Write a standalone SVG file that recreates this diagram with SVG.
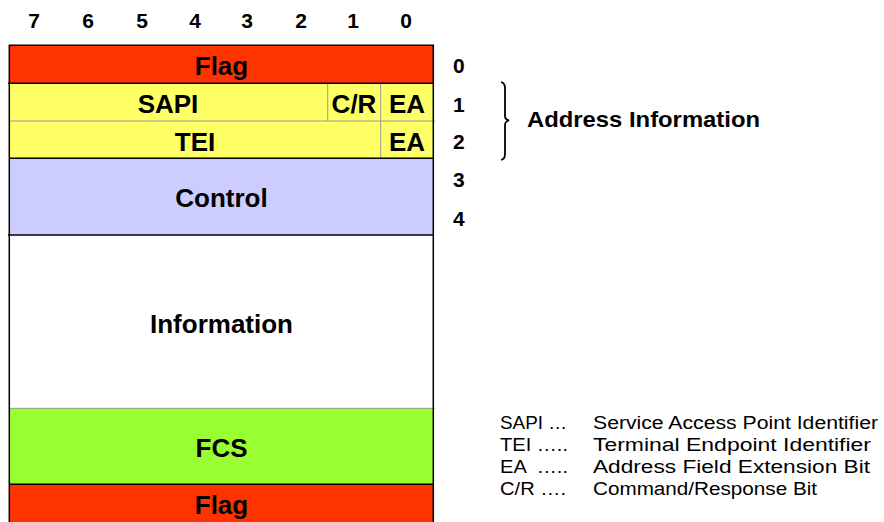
<svg xmlns="http://www.w3.org/2000/svg" width="884" height="522" viewBox="0 0 884 522">
  <style>
    .lbl { font-family: "Liberation Sans", Arial, sans-serif; font-weight: bold; font-size: 26px; fill: #000; text-anchor: middle; }
    .bit { font-family: "Liberation Sans", Arial, sans-serif; font-weight: bold; font-size: 21px; fill: #000; text-anchor: middle; }
    .oct { font-family: "Liberation Sans", Arial, sans-serif; font-weight: bold; font-size: 21px; fill: #000; }
    .head { font-family: "Liberation Sans", Arial, sans-serif; font-weight: bold; font-size: 22px; fill: #000; }
    .leg { font-family: "Liberation Sans", Arial, sans-serif; font-size: 18px; fill: #000; white-space: pre; }
    .edge { stroke: #000; stroke-width: 1.5; fill: none; }
    .thin { stroke: #999; stroke-width: 1; fill: none; }
    .flag { fill: #FF3300; }
    .addr { fill: #FFFF66; }
    .ctrl { fill: #CCCCFF; }
    .info { fill: #FFFFFF; }
    .fcs { fill: #99FF33; }
  </style>

  <!-- bit positions across the top -->
  <g id="bit-numbers">
    <text class="bit" x="34" y="28">7</text>
    <text class="bit" x="88" y="28">6</text>
    <text class="bit" x="142" y="28">5</text>
    <text class="bit" x="195" y="28">4</text>
    <text class="bit" x="247" y="28">3</text>
    <text class="bit" x="301" y="28">2</text>
    <text class="bit" x="353" y="28">1</text>
    <text class="bit" x="406" y="28">0</text>
  </g>

  <!-- frame fields -->
  <g id="flag-open">
    <rect class="flag" x="9" y="45" width="425" height="38"/>
    <text class="lbl" x="221.5" y="75">Flag</text>
  </g>
  <g id="sapi-octet">
    <rect class="addr" x="9" y="83" width="425" height="38"/>
    <text class="lbl" x="168" y="112.5">SAPI</text>
    <text class="lbl" x="354" y="112.5">C/R</text>
    <text class="lbl" x="407" y="112.5">EA</text>
  </g>
  <g id="tei-octet">
    <rect class="addr" x="9" y="121" width="425" height="37"/>
    <text class="lbl" x="195" y="151">TEI</text>
    <text class="lbl" x="407" y="151">EA</text>
  </g>
  <g id="control">
    <rect class="ctrl" x="9" y="158" width="425" height="77"/>
    <text class="lbl" x="221.5" y="207">Control</text>
  </g>
  <g id="information">
    <rect class="info" x="9" y="235" width="425" height="173"/>
    <text class="lbl" x="221.5" y="333">Information</text>
  </g>
  <g id="fcs">
    <rect class="fcs" x="9" y="408" width="425" height="76"/>
    <text class="lbl" x="221.5" y="457">FCS</text>
  </g>
  <g id="flag-close">
    <rect class="flag" x="9" y="484" width="425" height="38"/>
    <text class="lbl" x="221.5" y="514">Flag</text>
  </g>

  <!-- field borders -->
  <g id="borders">
    <line class="thin" x1="9" y1="121" x2="435" y2="121"/>
    <line class="thin" x1="9" y1="408.3" x2="435" y2="408.3"/>
    <line class="thin" x1="327.7" y1="83" x2="327.7" y2="121"/>
    <line class="thin" x1="380.7" y1="83" x2="380.7" y2="158"/>
    <line class="edge" x1="8" y1="83.3" x2="434" y2="83.3"/>
    <line class="edge" x1="9" y1="158.3" x2="434" y2="158.3"/>
    <line class="edge" x1="8" y1="235" x2="434" y2="235" stroke="#333"/>
    <line class="edge" x1="9" y1="484.3" x2="434" y2="484.3"/>
    <path class="edge" d="M9.3,522 L9.3,45.3 L433.3,45.3 L433.3,522"/>
  </g>

  <!-- octet numbers on the right -->
  <g id="octet-numbers">
    <text class="oct" x="453" y="73">0</text>
    <text class="oct" x="453" y="111.5">1</text>
    <text class="oct" x="453" y="149">2</text>
    <text class="oct" x="453" y="186.5">3</text>
    <text class="oct" x="453" y="225.5">4</text>
  </g>

  <!-- brace grouping the address octets -->
  <g id="address-brace">
    <path d="M501,82 Q505,83 505,88 L505,116 Q505,119.5 509,120.5 Q505,121.5 505,125 L505,154 Q505,159 501,160" stroke="#000" stroke-width="1.8" fill="none"/>
    <text class="head" x="527" y="127.3" textLength="233" lengthAdjust="spacingAndGlyphs">Address Information</text>
  </g>

  <!-- abbreviation legend -->
  <g id="legend">
    <text class="leg" x="500" y="429.3" textLength="67" lengthAdjust="spacingAndGlyphs">SAPI …</text>
    <text class="leg" x="593" y="429.3" textLength="285" lengthAdjust="spacingAndGlyphs">Service Access Point Identifier</text>
    <text class="leg" x="500" y="451" textLength="68" lengthAdjust="spacingAndGlyphs">TEI …..</text>
    <text class="leg" x="593" y="451" textLength="278" lengthAdjust="spacingAndGlyphs">Terminal Endpoint Identifier</text>
    <text class="leg" x="500" y="473" xml:space="preserve" textLength="68" lengthAdjust="spacingAndGlyphs">EA  …..</text>
    <text class="leg" x="593" y="473" textLength="277" lengthAdjust="spacingAndGlyphs">Address Field Extension Bit</text>
    <text class="leg" x="500" y="495" textLength="66" lengthAdjust="spacingAndGlyphs">C/R ….</text>
    <text class="leg" x="593" y="495" textLength="224" lengthAdjust="spacingAndGlyphs">Command/Response Bit</text>
  </g>
</svg>
